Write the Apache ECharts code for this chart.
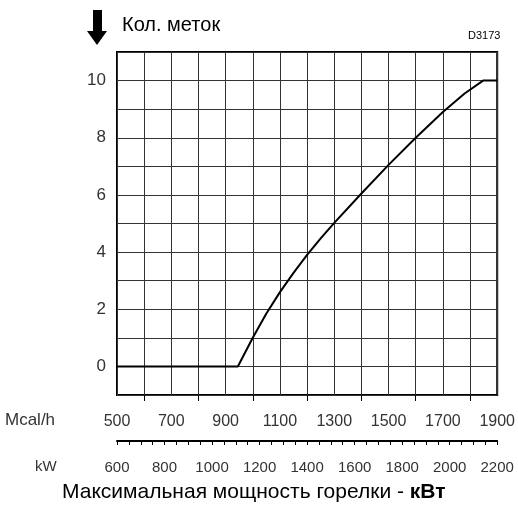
<!DOCTYPE html>
<html>
<head>
<meta charset="utf-8">
<script src="https://cdn.jsdelivr.net/npm/echarts@6/dist/echarts.min.js"></script>
<style>
  html, body { margin: 0; padding: 0; background: #fff; }
  #main { width: 518px; height: 508px; }
</style>
</head>
<body>
<div id="main"></div>
<script>
// burner max output (Mcal/h) vs number of marks
let mcal = [500, 945, 1000, 1050, 1100, 1150, 1200, 1250, 1300, 1400, 1500, 1600, 1700, 1780, 1848, 1900]
let marks = [0, 0, 1.0, 1.85, 2.6, 3.27, 3.9, 4.48, 5.02, 6.05, 7.05, 8.0, 8.9, 9.55, 10, 10]

let mcalLabels = [500, 700, 900, 1100, 1300, 1500, 1700, 1900]
let mcalTicks = [600, 800, 1000, 1200, 1400, 1600, 1800]
let kwLabels = [600, 800, 1000, 1200, 1400, 1600, 1800, 2000, 2200]
let yLabels = [0, 2, 4, 6, 8, 10]

let font = 'Liberation Sans'
let plain = v => String(v)

let chart = echarts.init(document.getElementById('main'))

let option = {
  animation: false,
  grid: {
    left: 117, right: 19, top: 52, bottom: 113,
    show: true,
    borderColor: '#000',
    borderWidth: 2
  },
  xAxis: [
    {
      // Mcal/h scale: grid every 100, labels every 200
      type: 'value',
      min: 500, max: 1900, interval: 100,
      axisLine: { show: false },
      axisTick: { show: false },
      axisLabel: {
        customValues: mcalLabels, margin: 19, formatter: plain,
        fontFamily: font, fontSize: 16, color: '#333'
      },
      splitLine: { show: true, lineStyle: { color: '#333', width: 1 } }
    },
    {
      // short ticks under the box
      type: 'value',
      position: 'bottom',
      min: 500, max: 1900,
      axisLine: { show: false },
      axisTick: {
        show: true, length: 6, customValues: mcalTicks,
        lineStyle: { color: '#000', width: 1 }
      },
      axisLabel: { show: false },
      splitLine: { show: false }
    },
    {
      // kW scale
      type: 'value',
      position: 'bottom',
      offset: 46,
      min: 600, max: 2200, interval: 50,
      axisLine: { show: true, onZero: false, lineStyle: { color: '#000', width: 2 } },
      axisTick: { show: true, length: 4, lineStyle: { color: '#000', width: 1 } },
      axisLabel: {
        customValues: kwLabels, margin: 19, formatter: plain,
        fontFamily: font, fontSize: 15, color: '#333'
      },
      splitLine: { show: false }
    }
  ],
  yAxis: {
    type: 'value',
    min: -1, max: 11, interval: 1,
    axisLine: { show: false },
    axisTick: { show: false },
    axisLabel: {
      customValues: yLabels, margin: 11,
      fontFamily: font, fontSize: 17, color: '#333'
    },
    splitLine: { show: true, lineStyle: { color: '#333', width: 1 } }
  },
  series: [
    {
      type: 'line',
      xAxisIndex: 0,
      yAxisIndex: 0,
      data: mcal.map((x, i) => [x, marks[i]]),
      symbol: 'none',
      lineStyle: { color: '#000', width: 2 },
      z: 5
    }
  ],
  graphic: [
    { type: 'rect', shape: { x: 93, y: 10, width: 9, height: 22 }, style: { fill: '#000' } },
    { type: 'polygon', shape: { points: [[87, 31], [107, 31], [97, 45]] }, style: { fill: '#000' } },
    { type: 'text', left: 122, top: 15, style: { text: 'Кол. меток', font: '20px Liberation Sans', fill: '#000' } },
    { type: 'text', left: 468, top: 30, style: { text: 'D3173', font: '11px Liberation Sans', fill: '#000' } },
    { type: 'text', left: 5, top: 412, style: { text: 'Mcal/h', font: '17px Liberation Sans', fill: '#333' } },
    { type: 'text', left: 35, top: 459, style: { text: 'kW', font: '15px Liberation Sans', fill: '#333' } },
    {
      type: 'text', left: 62, top: 482,
      style: {
        text: '{n|Максимальная мощность горелки - }{b|кВт}',
        rich: {
          n: { font: '21px Liberation Sans', fill: '#000' },
          b: { font: 'bold 21px Liberation Sans', fill: '#000' }
        }
      }
    }
  ]
}

chart.setOption(option)
</script>
</body>
</html>
